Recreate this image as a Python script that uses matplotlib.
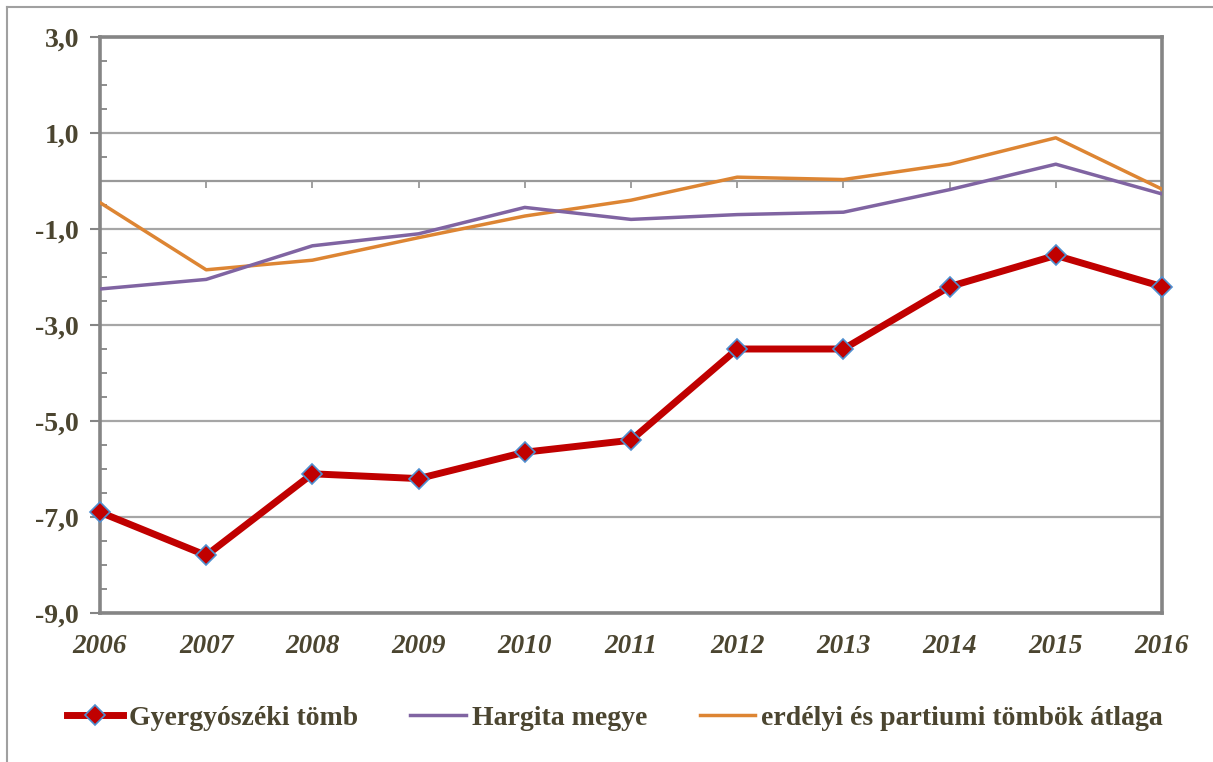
import numpy as np
import matplotlib.pyplot as plt
from matplotlib.ticker import MultipleLocator, FuncFormatter
from matplotlib.lines import Line2D

# Years on the x axis
years = [2006, 2007, 2008, 2009, 2010, 2011, 2012, 2013, 2014, 2015, 2016]

# Series values
gyergyo = [-6.9, -7.8, -6.1, -6.2, -5.65, -5.4, -3.5, -3.5, -2.2, -1.55, -2.2]
hargita = [-2.25, -2.05, -1.35, -1.1, -0.55, -0.8, -0.7, -0.65, -0.18, 0.35, -0.27]
erdelyi = [-0.45, -1.85, -1.65, -1.18, -0.73, -0.4, 0.08, 0.03, 0.35, 0.9, -0.17]

labels = ['Gyergyószéki tömb', 'Hargita megye', 'erdélyi és partiumi tömbök átlaga']

text_color = '#4b4530'
axis_gray = '#858585'
plt.rcParams['font.family'] = ['Liberation Serif', 'DejaVu Serif']

fig = plt.figure(figsize=(12.13, 7.62), dpi=100)
ax = fig.add_axes([100 / 1213, 1 - 613 / 762, 1062 / 1213, 576 / 762])

# gridlines at the labelled values
ax.set_ylim(-9, 3)
ax.set_xlim(years[0], years[-1])
ax.set_yticks(np.arange(-9, 3.1, 2))
ax.yaxis.set_minor_locator(MultipleLocator(0.5))
ax.grid(axis='y', which='major', color='#a6a6a6', linewidth=1.6)
ax.set_axisbelow(True)

# horizontal axis line at zero with category ticks
ax.axhline(0, color='#999999', linewidth=1.6, zorder=1)
ax.vlines(years[1:-1], 0, -0.15, color='#999999', linewidth=1.3, zorder=1)

ax.plot(years, erdelyi, color='#dd8533', linewidth=2.5, label=labels[2], zorder=3)
ax.plot(years, hargita, color='#8064a2', linewidth=2.5, label=labels[1], zorder=3)
ax.plot(years, gyergyo, color='#c00000', linewidth=5, marker='D', markersize=10,
        markerfacecolor='#c00000', markeredgecolor='#4f8fd0', markeredgewidth=1.2,
        label=labels[0], zorder=4, clip_on=False)

for side in ['left', 'right', 'top', 'bottom']:
    ax.spines[side].set_color(axis_gray)
    ax.spines[side].set_linewidth(2.6)

ax.yaxis.set_major_formatter(FuncFormatter(lambda v, p: f'{v:.1f}'.replace('.', ',')))
ax.tick_params(axis='y', which='major', direction='out', length=7, width=1.5,
               color=axis_gray, labelsize=20, labelcolor=text_color, pad=8)
ax.tick_params(axis='y', which='minor', direction='in', length=5, width=1.3, color=axis_gray)
for lab in ax.get_yticklabels():
    lab.set_fontweight('bold')

ax.set_xticks(years)
ax.set_xticklabels([str(y) for y in years], fontsize=19.5, fontweight='bold',
                   fontstyle='italic', color=text_color)
ax.tick_params(axis='x', length=0, pad=15)

# legend below the plot
handles = [
    Line2D([], [], color='#c00000', linewidth=5, marker='D', markersize=10,
           markerfacecolor='#c00000', markeredgecolor='#4f8fd0', markeredgewidth=1.2),
    Line2D([], [], color='#8064a2', linewidth=2.5),
    Line2D([], [], color='#dd8533', linewidth=2.5),
]
leg = fig.legend(handles, labels, loc='center', bbox_to_anchor=(615 / 1213, 1 - 718 / 762),
                 ncol=3, frameon=False, handlelength=2.0, handletextpad=0.2,
                 columnspacing=1.9, prop={'size': 20, 'weight': 'bold'})
for t in leg.get_texts():
    t.set_color(text_color)

# outer frame lines (left and top only visible)
fig.add_artist(Line2D([7 / 1213, 7 / 1213], [0, 1 - 7 / 762], color='#a0a0a0', linewidth=1.5))
fig.add_artist(Line2D([7 / 1213, 1], [1 - 7 / 762, 1 - 7 / 762], color='#a0a0a0', linewidth=1.5))

plt.savefig('out.png', dpi=100)
